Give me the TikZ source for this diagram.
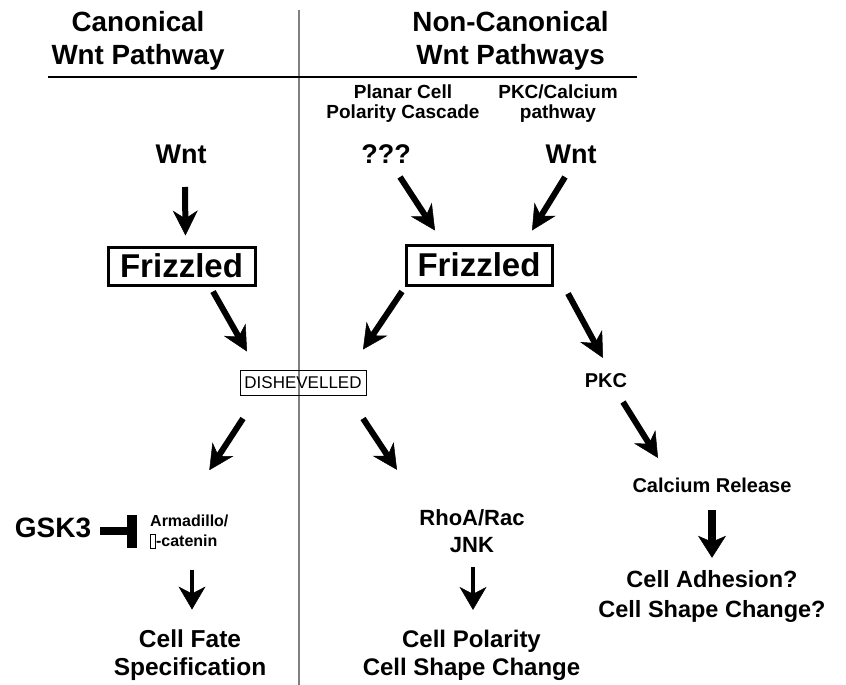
\documentclass[tikz,border=0pt]{standalone}
\usepackage{fontspec}
\setmainfont{Liberation Sans}
\usetikzlibrary{calc}
\usetikzlibrary{positioning}
\usetikzlibrary{arrows.meta}
\newcommand{\txtsize}[2]{\fontsize{#1}{#2}\selectfont}
\newcommand{\missingglyph}{{\setlength{\fboxsep}{0pt}\setlength{\fboxrule}{0.7pt}\fbox{\rule[-2pt]{0pt}{13pt}\hspace{4.5pt}}}}

\begin{document}
\begin{tikzpicture}[x=1pt,y=-1pt]
\tikzstyle{txt}=[inner sep=0pt,align=center,anchor=base]
\tikzstyle{box}=[rectangle,draw,line width=3pt,inner sep=0pt,font=\bfseries\txtsize{33}{40}]
\tikzstyle{arr}=[line width=6pt,-{Stealth[length=25pt,width=25pt,inset=8pt,line width=0.5pt]}]
\tikzstyle{arrs}=[line width=4pt,-{Stealth[length=23pt,width=27pt,inset=7pt,line width=0.5pt]}]
\tikzstyle{arrb}=[line width=8pt,-{Stealth[length=22pt,width=28pt,inset=6pt,line width=0.5pt]}]
\tikzstyle{inhib}=[line width=8pt,-{Bar[width=33pt,line width=10pt]}]
\useasboundingbox (0,0) rectangle (846,685);

% headings (base = last line)
\node[txt,font=\bfseries\txtsize{27.8}{33}] (can) at (138,65) {Canonical\\Wnt Pathway};
\node[txt,font=\bfseries\txtsize{27.8}{33}] (noncan) at (510.5,65) {Non-Canonical\\Wnt Pathways};
\node[txt,font=\bfseries\txtsize{19}{20}] (pcp) at (403,118) {Planar Cell\\Polarity Cascade};
\node[txt,font=\bfseries\txtsize{19}{20}] (pkcpath) at (558,118) {PKC/Calcium\\pathway};
\draw[line width=2pt,gray] (299,10) -- (299,685);
\draw[line width=1.5pt] (48,77) -- (637,77);

% ligands and receptors
\node[txt,font=\bfseries\txtsize{27}{32}] (wntL) at (181,163) {Wnt};
\node[txt,font=\bfseries\txtsize{27}{32}] (qq) at (386,163) {???};
\node[txt,font=\bfseries\txtsize{27}{32}] (wntR) at (571,163) {Wnt};
\node[box,minimum width=147pt,minimum height=38pt] (friL) at (181.5,266) {Frizzled};
\node[box,minimum width=146pt,minimum height=40pt] (friR) at (479,265) {Frizzled};
\node[draw,line width=1pt,inner sep=0pt,minimum width=126pt,minimum height=25pt,font=\txtsize{17}{20}] (dsh) at (303,382.5) {DISHEVELLED};
\node[txt,font=\bfseries\txtsize{20}{24}] (pkc) at (606,387) {PKC};

% downstream
\node[txt,font=\bfseries\txtsize{28}{32}] (gsk) at (53,537) {GSK3};
\node[txt,anchor=base west,align=left,font=\bfseries\txtsize{16}{20}] (arm) at (150,546) {Armadillo/\\\missingglyph-catenin};
\node[txt,font=\bfseries\txtsize{24.5}{28}] (fate) at (190,675) {Cell Fate\\Specification};
\node[txt,font=\bfseries\txtsize{22}{27}] (rho) at (472,552) {RhoA/Rac\\JNK};
\node[txt,font=\bfseries\txtsize{24}{28}] (pol) at (471.5,675) {Cell Polarity\\Cell Shape Change};
\node[txt,font=\bfseries\txtsize{20}{24}] (cal) at (712,492) {Calcium Release};
\node[txt,font=\bfseries\txtsize{23.5}{30}] (adh) at (712,617) {Cell Adhesion?\\Cell Shape Change?};

% arrows
\draw[arr] ($(wntL.base)+(4,24)$) -- ($(friL.north)+(4,-10)$);
\draw[arr] ($(qq.base)+(14,14)$) -- ($(friR.north)+(-44,-13)$);
\draw[arr] ($(wntR.base)+(-6,14)$) -- ($(friR.north)+(53,-13)$);
\draw[arr] ($(friL.south)+(31.5,5)$) -- ($(dsh.north)+(-56,-18)$);
\draw[arr] ($(friR.south)+(-77,5)$) -- ($(dsh.north)+(60,-20)$);
\draw[arr] ($(friR.south)+(89,7)$) -- ($(pkc.base)+(-3,-29)$);
\draw[arr] ($(dsh.south)+(-60,23)$) -- ($(arm.north)+(20,-44)$);
\draw[arr] ($(dsh.south)+(60,23)$) -- ($(rho.north)+(-75,-39)$);
\draw[arr] ($(pkc.base)+(17,15)$) -- ($(cal.base)+(-54,-34)$);
\draw[arrb] ($(cal.base)+(0,18)$) -- ($(adh.north)+(0,-12)$);
\draw[arrs] ($(fate.north |- arm.south)+(2,21)$) -- ($(fate.north)+(2,-19.5)$);
\draw[arrs] ($(pol.north |- rho.south)+(1.5,15)$) -- ($(pol.north)+(1.5,-19.5)$);
\draw[inhib] ($(gsk.east)+(9,4)$) -- ($(gsk.east -| arm.west)+(-13,4)$);
\end{tikzpicture}
\end{document}
